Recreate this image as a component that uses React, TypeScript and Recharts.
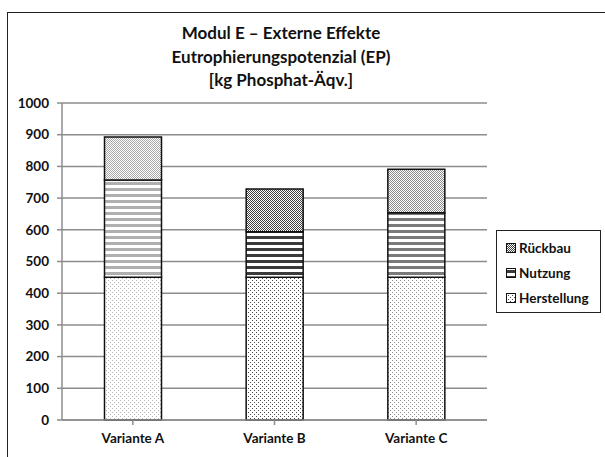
import { BarChart, Bar, XAxis, YAxis, CartesianGrid, Cell } from 'recharts'

const variants = ['Variante A', 'Variante B', 'Variante C']
const herstellung = [450, 450, 450]
const nutzung = [307, 144, 204]
const rueckbau = [136, 135, 137]
const yTicks = [0, 100, 200, 300, 400, 500, 600, 700, 800, 900, 1000]

// one shade per variant: light, dark, medium
const shades = [
  { dot: '#b4b4b4', stripe: '#b0b0b0', check: '#a8a8a8', bg: '#ffffff' },
  { dot: '#4a4a4a', stripe: '#3a3a3a', check: '#404040', bg: '#ffffff' },
  { dot: '#8a8a8a', stripe: '#7a7a7a', check: '#8c8c8c', bg: '#ffffff' },
]

const data = variants.map((name, i) => ({
  name,
  Herstellung: herstellung[i],
  Nutzung: nutzung[i],
  Rueckbau: rueckbau[i],
}))

const font = 'Lato, "Open Sans", sans-serif'

function Patterns() {
  return (
    <svg width={0} height={0} style={{ position: 'absolute' }}>
      <defs>
        {shades.map((s, i) => (
          <g key={i}>
            <pattern id={`dots${i}`} width={4} height={4} patternUnits="userSpaceOnUse">
              <rect width={4} height={4} fill={s.bg} />
              <rect x={0} y={0} width={1} height={1} fill={s.dot} />
              <rect x={2} y={2} width={1} height={1} fill={s.dot} />
            </pattern>
            <pattern id={`stripe${i}`} width={6} height={6} patternUnits="userSpaceOnUse" y={2}>
              <rect width={6} height={6} fill={s.bg} />
              <rect x={0} y={0} width={6} height={3} fill={s.stripe} />
            </pattern>
            <pattern id={`check${i}`} width={2} height={2} patternUnits="userSpaceOnUse">
              <rect width={2} height={2} fill="#ffffff" />
              <rect x={0} y={0} width={1} height={1} fill={s.check} />
              <rect x={1} y={1} width={1} height={1} fill={s.check} />
            </pattern>
          </g>
        ))}
      </defs>
    </svg>
  )
}

const legendItems = [
  { label: 'Rückbau', fill: 'url(#check1)' },
  { label: 'Nutzung', fill: 'url(#stripe1)' },
  { label: 'Herstellung', fill: 'url(#dots1)' },
]

function LegendBox() {
  return (
    <div style={{ position: 'absolute', left: 496, top: 230, border: '1px solid #222', background: '#fff', padding: '4px 0 4px 9px', boxSizing: 'border-box', width: 105, height: 83 }}>
      {legendItems.map((it) => (
        <div key={it.label} style={{ display: 'flex', alignItems: 'center', height: 25, fontFamily: font, fontWeight: 700, fontSize: 13.5, color: '#111' }}>
          <svg width={10} height={10} style={{ marginRight: 3 }}>
            <rect x={0.5} y={0.5} width={9} height={9} fill={it.fill} stroke="#111" strokeWidth={1} />
          </svg>
          {it.label}
        </div>
      ))}
    </div>
  )
}

const titleLine = { fontFamily: font, fontWeight: 700, fontSize: 17, color: '#111', lineHeight: '23.5px' }
const tickStyle = { fill: '#111', fontFamily: font, fontWeight: 700, fontSize: 13.5 }

export default function App() {
  return (
    <div style={{ position: 'absolute', left: 0, top: 0, width: 605, height: 457, background: '#fff', overflow: 'hidden' }}>
      <Patterns />
      <div style={{ position: 'absolute', left: 7, top: 12, width: 640, height: 480, borderLeft: '1.5px solid #222', borderTop: '1.5px solid #222' }} />
      <div style={{ position: 'absolute', left: 81, top: 21, width: 400, textAlign: 'center' }}>
        <div style={titleLine}>Modul E – Externe Effekte</div>
        <div style={titleLine}>Eutrophierungspotenzial (EP)</div>
        <div style={titleLine}>[kg Phosphat-Äqv.]</div>
      </div>
      <div style={{ position: 'absolute', left: 0, top: 0 }}>
        <BarChart width={605} height={457} data={data} margin={{ top: 103, right: 118, bottom: 7, left: 12 }} barCategoryGap="30%">
          <CartesianGrid vertical={false} stroke="#8c8c8c" strokeWidth={1.5} />
          <XAxis
            dataKey="name"
            height={30}
            stroke="#8c8c8c"
            strokeWidth={1.5}
            tickLine={{ stroke: '#8c8c8c' }}
            tickSize={5}
            tick={tickStyle}
            tickMargin={8}
          />
          <YAxis
            width={50}
            domain={[0, 1000]}
            ticks={yTicks}
            interval={0}
            stroke="#8c8c8c"
            strokeWidth={1.5}
            tickSize={5}
            tick={tickStyle}
            tickMargin={8}
          />
          <Bar dataKey="Herstellung" stackId="a" stroke="#111" strokeWidth={1.5} isAnimationActive={false}>
            {data.map((_, i) => <Cell key={i} fill={`url(#dots${i})`} />)}
          </Bar>
          <Bar dataKey="Nutzung" stackId="a" stroke="#111" strokeWidth={1.5} isAnimationActive={false}>
            {data.map((_, i) => <Cell key={i} fill={`url(#stripe${i})`} />)}
          </Bar>
          <Bar dataKey="Rueckbau" name="Rückbau" stackId="a" stroke="#111" strokeWidth={1.5} isAnimationActive={false}>
            {data.map((_, i) => <Cell key={i} fill={`url(#check${i})`} />)}
          </Bar>
        </BarChart>
      </div>
      <LegendBox />
    </div>
  )
}
